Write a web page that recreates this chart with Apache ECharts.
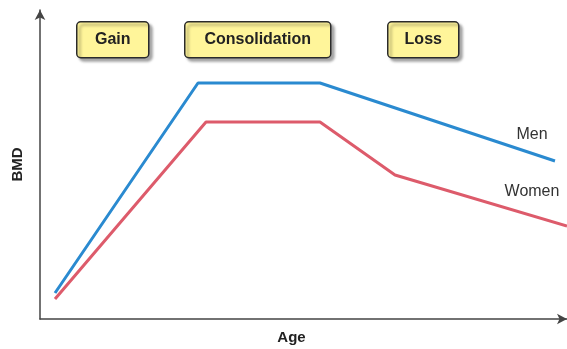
<!DOCTYPE html>
<html><head><meta charset="utf-8">
<script src="https://cdn.jsdelivr.net/npm/echarts@6/dist/echarts.min.js"></script>
<style>html,body{margin:0;padding:0;background:#fff}#c{width:567px;height:349px}</style>
</head><body><div id="c"></div>
<script>
// Age positions (arbitrary units) and BMD values (arbitrary units)
const menAge = [15, 158, 280, 515];
const menBMD = [26, 236, 236, 158];
const womenAge = [15, 166, 280, 355, 527];
const womenBMD = [20, 197, 197, 144, 93];
const phaseLabels = ['Gain', 'Consolidation', 'Loss'];
const seriesNames = ['Men', 'Women'];

const chart = echarts.init(document.getElementById('c'), null, {renderer: 'canvas'});
const font = '"Liberation Sans", Arial, Helvetica, sans-serif';

function pts(xs, ys) {
  return xs.map((x, i) => [x, ys[i]]);
}

const boxes = [
  {x: 76, w: 72},
  {x: 184, w: 146},
  {x: 387, w: 71}
];

const graphic = boxes.map((b, i) => ({
  type: 'group', left: b.x, top: 21,
  children: [
    {type: 'rect', shape: {x: 0, y: 0, width: b.w, height: 36, r: 4},
     style: {fill: '#fff59a', stroke: '#2b2b2b', lineWidth: 1.5,
       shadowColor: 'rgba(0,0,0,0.35)', shadowBlur: 3, shadowOffsetX: 3, shadowOffsetY: 3}},
    {type: 'text', x: b.w / 2, y: 18,
     style: {text: phaseLabels[i], fill: '#222', font: 'bold 16px ' + font,
       textAlign: 'center', textVerticalAlign: 'middle'}}
  ]
}));

const labelStyle = {fontFamily: font, fontSize: 16, color: '#333', align: 'center', verticalAlign: 'middle'};

chart.setOption({
  animation: false,
  grid: {left: 40, right: 0, top: 10, bottom: 30, containLabel: false, outerBoundsMode: 'none'},
  xAxis: {type: 'value', min: 0, max: 527, name: 'Age', nameLocation: 'middle', nameGap: 11,
    nameTextStyle: {fontFamily: font, fontWeight: 'bold', fontSize: 15, color: '#222', padding: [0, 24, 0, 0]},
    axisLine: {show: true, symbol: ['none', 'arrow'], symbolSize: [8, 10], lineStyle: {color: '#444', width: 1.5}},
    axisTick: {show: false}, axisLabel: {show: false}, splitLine: {show: false}},
  yAxis: {type: 'value', min: 0, max: 309, name: 'BMD', nameLocation: 'middle', nameGap: 15,
    nameTextStyle: {fontFamily: font, fontWeight: 'bold', fontSize: 15, color: '#222'},
    axisLine: {show: true, symbol: ['none', 'arrow'], symbolSize: [8, 10], lineStyle: {color: '#444', width: 1.5}},
    axisTick: {show: false}, axisLabel: {show: false}, splitLine: {show: false}},
  series: [
    {type: 'line', name: seriesNames[0], data: pts(menAge, menBMD),
     symbol: 'none', lineStyle: {color: '#2a8ad0', width: 3}, z: 3, clip: false,
     endLabel: Object.assign({show: true, formatter: seriesNames[0], offset: [-31, -26]}, labelStyle)},
    {type: 'line', name: seriesNames[1], data: pts(womenAge, womenBMD),
     symbol: 'none', lineStyle: {color: '#dd5b6b', width: 3}, z: 2, clip: false,
     endLabel: Object.assign({show: true, formatter: seriesNames[1], offset: [-43, -34]}, labelStyle)}
  ],
  graphic: graphic
});
</script></body></html>
